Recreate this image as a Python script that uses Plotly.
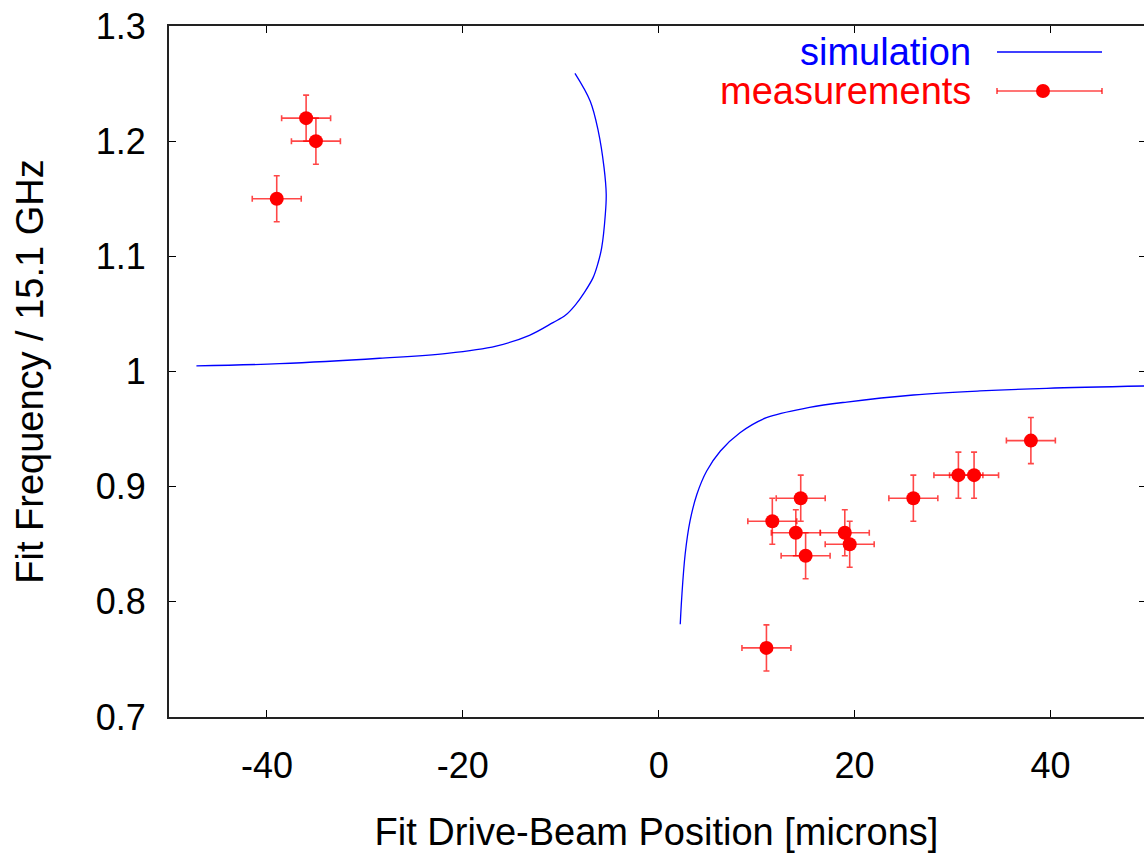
import plotly.graph_objects as go

# Measured drive-beam positions (microns) and fitted frequencies (/15.1 GHz)
meas_x = [-36.0, -35.0, -39.0, 11.6, 14.5, 14.0, 15.0, 19.0, 19.5, 26.0, 30.6, 32.2, 38.0, 11.0]
meas_y = [1.22, 1.20, 1.15, 0.87, 0.89, 0.86, 0.84, 0.86, 0.85, 0.89, 0.91, 0.91, 0.94, 0.76]
meas_xerr = [2.5] * len(meas_x)
meas_yerr = [0.02] * len(meas_y)

# Simulated upper branch
sim_upper_x = [-47.2, -38.7, -28.5, -21.6, -16.6, -13.2, -10.8, -9.5, -8.5, -7.6, -6.7, -6.2,
               -5.82, -5.45, -5.36, -5.58, -6.17, -7.0, -8.55]
sim_upper_y = [1.0048, 1.0068, 1.0115, 1.0158, 1.0221, 1.0314, 1.0424, 1.0490, 1.0579, 1.0685,
               1.0815, 1.0940, 1.1075, 1.1365, 1.1539, 1.1770, 1.2088, 1.2349, 1.2589]

# Simulated lower branch
sim_lower_x = [2.2, 2.35, 2.7, 3.2, 3.9, 4.9, 6.3, 8.3, 11.0, 15.4, 19.2, 26.0, 32.8, 39.6, 50.0]
sim_lower_y = [0.7805, 0.8036, 0.8413, 0.8702, 0.8934, 0.9136, 0.9310, 0.9469, 0.9599, 0.9688,
               0.9735, 0.9796, 0.9831, 0.9854, 0.9875]

x_ticks = [-40, -20, 0, 20, 40]
x_tick_text = ["-40", "-20", "0", "20", "40"]
y_ticks = [0.7, 0.8, 0.9, 1.0, 1.1, 1.2, 1.3]
y_tick_text = ["0.7", "0.8", "0.9", "1", "1.1", "1.2", "1.3"]

FONT = "Liberation Sans, Arial, Helvetica, sans-serif"
SIM_COLOR = "#0000ff"
MEAS_COLOR = "#ff0000"
ERR_COLOR = "rgba(255,0,0,0.72)"

fig = go.Figure()

for xs, ys in ((sim_upper_x, sim_upper_y), (sim_lower_x, sim_lower_y)):
    fig.add_trace(go.Scatter(
        x=xs, y=ys, mode="lines",
        line=dict(color=SIM_COLOR, width=1.3, shape="spline", smoothing=1.0),
        showlegend=False, hoverinfo="skip",
    ))

fig.add_trace(go.Scatter(
    x=meas_x, y=meas_y, mode="markers",
    marker=dict(color=MEAS_COLOR, size=14, line=dict(width=0)),
    error_x=dict(type="data", array=meas_xerr, color=ERR_COLOR, thickness=1.6, width=3),
    error_y=dict(type="data", array=meas_yerr, color=ERR_COLOR, thickness=1.6, width=3),
    showlegend=False,
))

# Mirror ticks on the right-hand side
fig.add_trace(go.Scatter(x=[None], y=[None], yaxis="y2", showlegend=False))

W, H = 1144, 855
L, R, T, B = 169, 0, 26, 138
pw, ph = W - L - R, H - T - B


def px(xp):
    return (xp - L) / pw


def py(yp):
    return (H - B - yp) / ph


# Key: label text followed by a sample of each series
shapes = [
    dict(type="line", xref="paper", yref="paper", x0=px(997), x1=px(1102), y0=py(52), y1=py(52),
         line=dict(color=SIM_COLOR, width=1.3)),
    dict(type="line", xref="paper", yref="paper", x0=px(997), x1=px(1102), y0=py(91), y1=py(91),
         line=dict(color=ERR_COLOR, width=1.6)),
    dict(type="line", xref="paper", yref="paper", x0=px(997), x1=px(997), y0=py(88), y1=py(94),
         line=dict(color=ERR_COLOR, width=1.6)),
    dict(type="line", xref="paper", yref="paper", x0=px(1102), x1=px(1102), y0=py(88), y1=py(94),
         line=dict(color=ERR_COLOR, width=1.6)),
    dict(type="circle", xref="paper", yref="paper", x0=px(1036), x1=px(1050), y0=py(98), y1=py(84),
         fillcolor=MEAS_COLOR, line=dict(width=0)),
]

annotations = [
    dict(text="simulation", xref="paper", yref="paper", x=px(973), y=py(52), xanchor="right",
         yanchor="middle", showarrow=False, font=dict(family=FONT, size=38, color=SIM_COLOR)),
    dict(text="measurements", xref="paper", yref="paper", x=px(973), y=py(91), xanchor="right",
         yanchor="middle", showarrow=False, font=dict(family=FONT, size=38, color=MEAS_COLOR)),
]

axis_common = dict(
    showgrid=False, zeroline=False, ticks="inside", ticklen=7, tickwidth=1, tickcolor="#000",
    showline=True, linewidth=2, linecolor="#222",
    tickfont=dict(family=FONT, size=36, color="#000"),
)

fig.update_layout(
    width=W, height=H,
    margin=dict(l=L, r=R, t=T, b=B, pad=0),
    paper_bgcolor="white", plot_bgcolor="white",
    font=dict(family=FONT, color="#000"),
    xaxis=dict(
        range=[-50, 49.55], tickvals=x_ticks, ticktext=x_tick_text, mirror="ticks",
        ticklabelstandoff=16,
        title=dict(text="Fit Drive-Beam Position [microns]", font=dict(family=FONT, size=38), standoff=33),
        **axis_common,
    ),
    yaxis=dict(
        range=[0.7, 1.3], tickvals=y_ticks, ticktext=y_tick_text, mirror=False, ticklabelstandoff=14,
        title=dict(text="Fit Frequency / 15.1 GHz", font=dict(family=FONT, size=38), standoff=40),
        **axis_common,
    ),
    yaxis2=dict(
        range=[0.7, 1.3], tickvals=y_ticks, overlaying="y", side="right", showgrid=False,
        zeroline=False, showline=False, showticklabels=False, ticks="inside", ticklen=5,
        tickwidth=1, tickcolor="#000",
    ),
    shapes=shapes,
    annotations=annotations,
    showlegend=False,
)

fig.write_html("out.html")
